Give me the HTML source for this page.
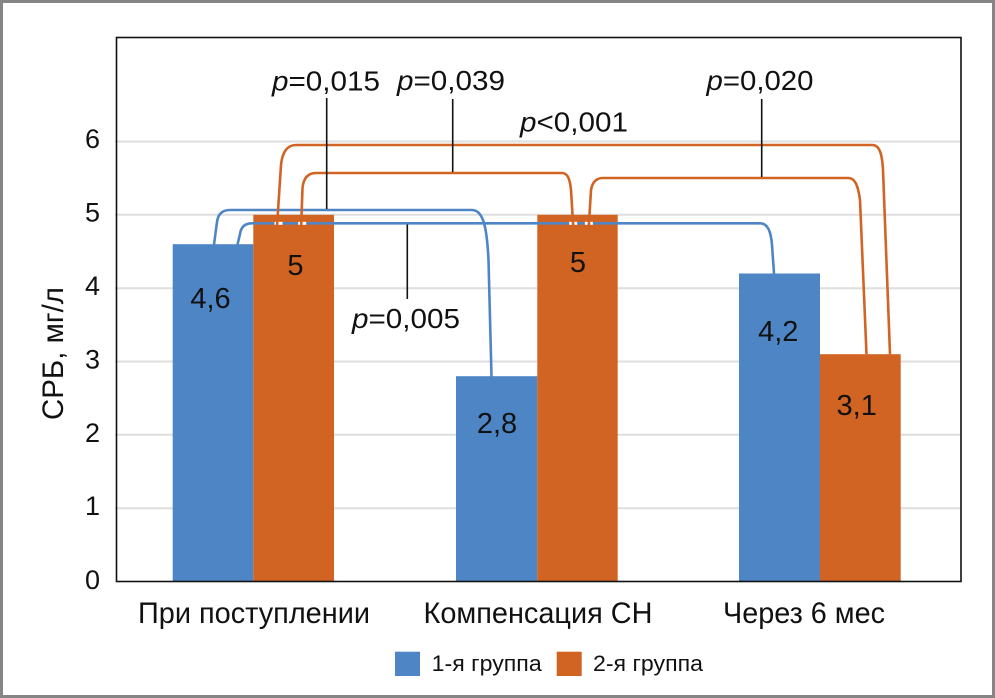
<!DOCTYPE html>
<html>
<head>
<meta charset="utf-8">
<style>
  html, body { margin:0; padding:0; background:#fff; }
  svg { display:block; }
  text { font-family: "Liberation Sans", "DejaVu Sans", sans-serif; fill:#111; }
</style>
</head>
<body>
<svg width="995" height="698" viewBox="0 0 995 698" xmlns="http://www.w3.org/2000/svg">
  <!-- outer border -->
  <rect x="1.5" y="1.5" width="992" height="695" fill="#fff" stroke="#858585" stroke-width="3"/>

  <!-- gridlines -->
  <g stroke="#dedede" stroke-width="2">
    <line x1="115" y1="508.2" x2="961" y2="508.2"/>
    <line x1="115" y1="434.8" x2="961" y2="434.8"/>
    <line x1="115" y1="361.5" x2="961" y2="361.5"/>
    <line x1="115" y1="288.2" x2="961" y2="288.2"/>
    <line x1="115" y1="214.8" x2="961" y2="214.8"/>
    <line x1="115" y1="141.5" x2="961" y2="141.5"/>
  </g>

  <!-- bars -->
  <g>
    <rect x="172.7" y="244.2" width="80.6" height="337.3" fill="#4e86c5"/>
    <rect x="253.3" y="214.8" width="80.7" height="366.7" fill="#d16422"/>
    <rect x="456" y="376.2" width="81.3" height="205.3" fill="#4e86c5"/>
    <rect x="537.3" y="214.8" width="80.4" height="366.7" fill="#d16422"/>
    <rect x="739" y="273.5" width="81" height="308" fill="#4e86c5"/>
    <rect x="820" y="354.2" width="80.7" height="227.3" fill="#d16422"/>
  </g>

  <!-- plot frame -->
  <rect x="116.5" y="37.5" width="844.5" height="544" fill="none" stroke="#111" stroke-width="1.6"/>

  <!-- y tick labels -->
  <g font-size="27" text-anchor="end">
    <text x="100" y="589">0</text>
    <text x="100" y="515">1</text>
    <text x="100" y="442">2</text>
    <text x="100" y="368.5">3</text>
    <text x="100" y="295">4</text>
    <text x="100" y="221.5">5</text>
    <text x="100" y="148">6</text>
  </g>

  <!-- y axis title -->
  <text transform="translate(63,353.5) rotate(-90)" text-anchor="middle" font-size="30" textLength="133" lengthAdjust="spacingAndGlyphs">СРБ, мг/л</text>

  <!-- x labels -->
  <g font-size="29.5" text-anchor="middle">
    <text x="254" y="623" textLength="232" lengthAdjust="spacingAndGlyphs">При поступлении</text>
    <text x="538" y="623" textLength="229" lengthAdjust="spacingAndGlyphs">Компенсация СН</text>
    <text x="804" y="623" textLength="162" lengthAdjust="spacingAndGlyphs">Через 6 мес</text>
  </g>

  <!-- data labels -->
  <g font-size="29" text-anchor="middle">
    <text x="210.5" y="308">4,6</text>
    <text x="295.5" y="275">5</text>
    <text x="497" y="433">2,8</text>
    <text x="578" y="272">5</text>
    <text x="778.3" y="341">4,2</text>
    <text x="856.7" y="415">3,1</text>
  </g>

  <!-- blue connectors -->
  <g fill="none" stroke="#4e86c5" stroke-width="2.6">
    <path d="M214,244.5 L217,222 Q218.5,210 230,210 H472 C484,210 487,230 488.5,260 L491.5,376.5"/>
    <path d="M237.5,244.5 L240,234 Q241.5,223.3 252,223.3 H760 C768,223.3 771,232 772,245 L774,273.5"/>
  </g>

  <!-- white gaps where orange crosses blue -->
  <g stroke="#fff" stroke-width="8" fill="none">
    <line x1="278.5" y1="221.8" x2="278.5" y2="224.8"/>
    <line x1="302.2" y1="221.8" x2="302.2" y2="224.8"/>
    <line x1="573.2" y1="221.8" x2="573.2" y2="224.8"/>
    <line x1="588.9" y1="221.8" x2="588.9" y2="224.8"/>
  </g>

  <!-- orange connectors -->
  <g fill="none" stroke="#d16422" stroke-width="2.6">
    <path d="M276.7,231 L281,165 Q283,145 296,145 H872 C879,145 882,152 883,170 L890,354.2"/>
    <path d="M301,231 L302.5,188 Q304,173 316,173 H562 C568,173 570,180 571,190 L573.5,231"/>
    <path d="M588.5,231 L591,190 Q593,178 603,178 H848 C855,178 858,185 860,200 L866.5,354.2"/>
  </g>

  <!-- pointer lines -->
  <g stroke="#111" stroke-width="1.6">
    <line x1="326.7" y1="98" x2="326.7" y2="209"/>
    <line x1="452.7" y1="99" x2="452.7" y2="172"/>
    <line x1="761.7" y1="99" x2="761.7" y2="177"/>
    <line x1="407.3" y1="224.5" x2="407.3" y2="299"/>
  </g>

  <!-- p labels -->
  <g font-size="28" text-anchor="middle">
    <text x="326" y="90.5" textLength="108" lengthAdjust="spacingAndGlyphs"><tspan font-style="italic">p</tspan>=0,015</text>
    <text x="451" y="90" textLength="108" lengthAdjust="spacingAndGlyphs"><tspan font-style="italic">p</tspan>=0,039</text>
    <text x="574" y="131.7" textLength="108" lengthAdjust="spacingAndGlyphs"><tspan font-style="italic">p</tspan>&lt;0,001</text>
    <text x="760" y="90" textLength="107" lengthAdjust="spacingAndGlyphs"><tspan font-style="italic">p</tspan>=0,020</text>
    <text x="406" y="328" textLength="108" lengthAdjust="spacingAndGlyphs"><tspan font-style="italic">p</tspan>=0,005</text>
  </g>

  <!-- legend -->
  <rect x="395" y="651.7" width="25" height="24.3" fill="#4e86c5"/>
  <text x="431.7" y="671" font-size="22" textLength="110" lengthAdjust="spacingAndGlyphs">1-я группа</text>
  <rect x="556.7" y="651.7" width="25" height="24.3" fill="#d16422"/>
  <text x="593" y="671" font-size="22" textLength="110" lengthAdjust="spacingAndGlyphs">2-я группа</text>
</svg>
</body>
</html>
